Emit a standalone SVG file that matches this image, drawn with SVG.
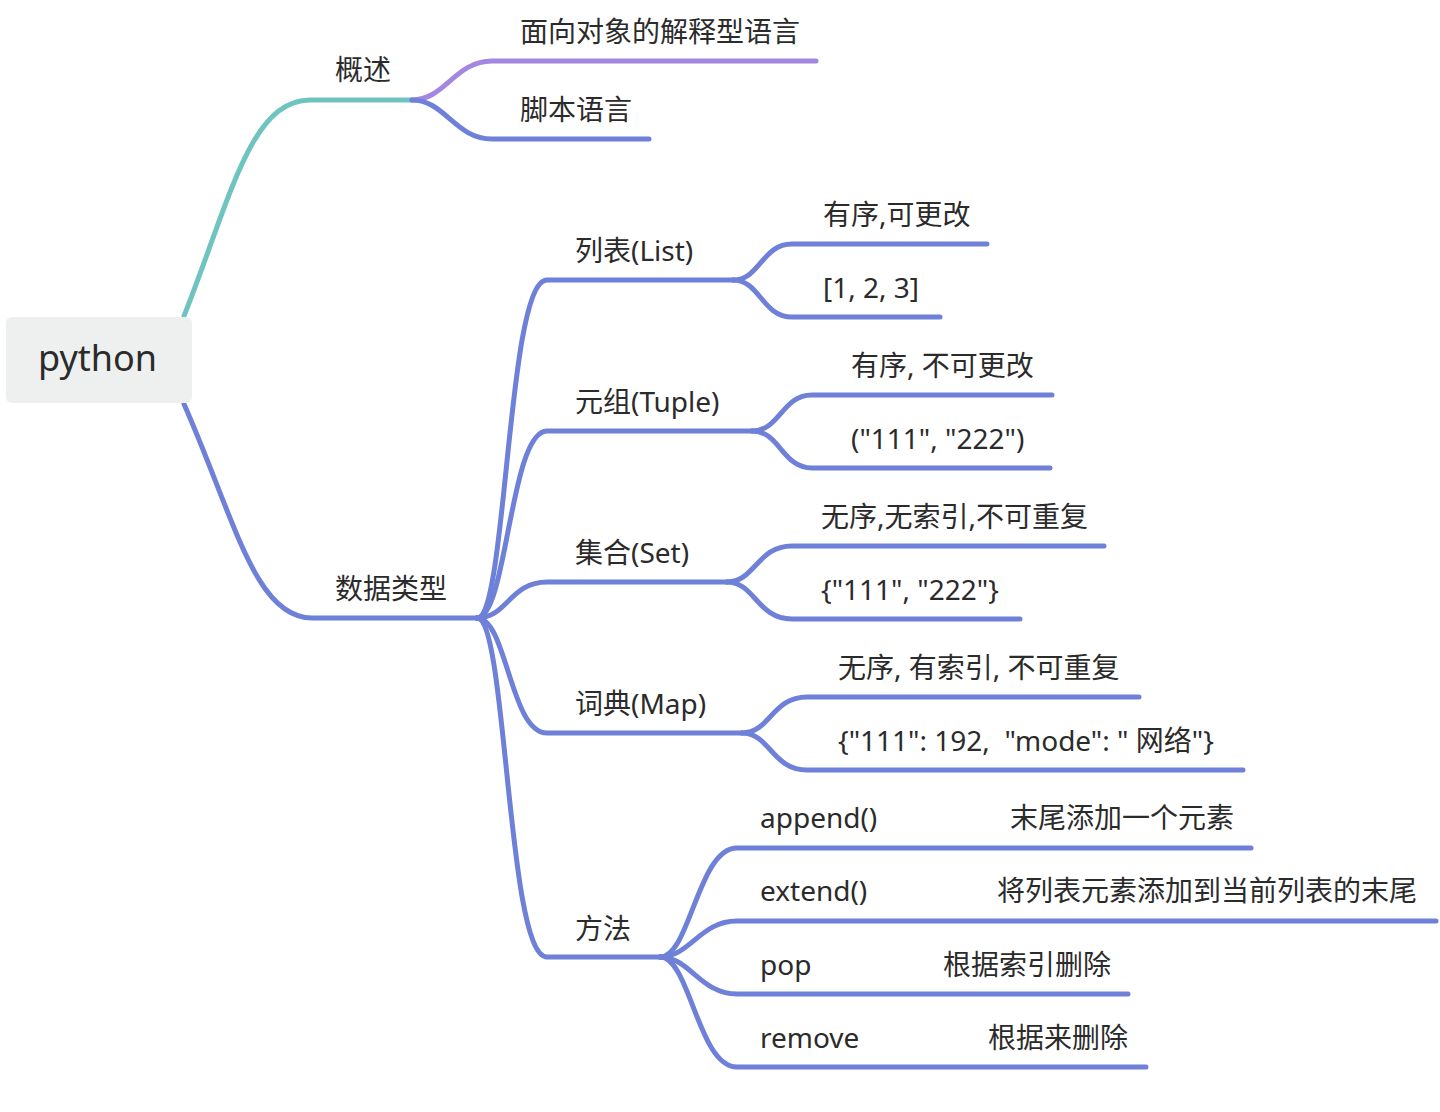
<svg xmlns="http://www.w3.org/2000/svg" width="1440" height="1112" viewBox="0 0 1440 1112">
<style>
.c{fill:none;stroke:#6e80d8;stroke-width:5;stroke-linecap:round}
.teal{stroke:#6fc4bf}
.pur{stroke:#a488e0}
text{font-family:"Noto Sans","Noto Sans CJK SC",sans-serif;font-size:28px;fill:#2b2b2b;white-space:pre}
.root{font-size:36px}
</style>
<rect width="1440" height="1112" fill="#ffffff"/>
<g id="connectors">
<path class="c teal" d="M184 316 C230 200 250 100 310 100 H412"/>
<path class="c pur" d="M412 100 C445 100 455 61 492 61 H816"/>
<path class="c" d="M412 100 C445 100 455 139 492 139 H649"/>
<path class="c" d="M184 404 C235 520 255 618 312 618 H477"/>
<path class="c" d="M477 618 C507 618 507 280 547 280 H733"/>
<path class="c" d="M477 618 C507 618 510 431 547 431 H752"/>
<path class="c" d="M477 618 C507 618 510 582 547 582 H727"/>
<path class="c" d="M477 618 C507 618 510 733 547 733 H742"/>
<path class="c" d="M477 618 C507 618 507 957 547 957 H660"/>
<path class="c" d="M733 280 C760 280 762 244 792 244 H987"/>
<path class="c" d="M733 280 C760 280 762 317 792 317 H940"/>
<path class="c" d="M752 431 C780 431 782 395 812 395 H1052"/>
<path class="c" d="M752 431 C780 431 782 468 812 468 H1050"/>
<path class="c" d="M727 582 C755 582 757 546 792 546 H1104"/>
<path class="c" d="M727 582 C755 582 757 619 792 619 H1020"/>
<path class="c" d="M742 733 C770 733 772 697 807 697 H1139"/>
<path class="c" d="M742 733 C770 733 772 770 807 770 H1243"/>
<path class="c" d="M660 957 C690 957 698 848 737 848 H1251"/>
<path class="c" d="M660 957 C690 957 700 921 737 921 H1436"/>
<path class="c" d="M660 957 C690 957 700 994 737 994 H1128"/>
<path class="c" d="M660 957 C690 957 698 1067 737 1067 H1146"/>
</g>
<g id="python"><rect x="6" y="317" width="186" height="86" rx="6" fill="#eef0f0"/><text class="root" x="38" y="371">python</text></g>
<g id="gaishu"><text x="335" y="80">概述</text></g>
<g id="mianxiang"><text x="520" y="42">面向对象的解释型语言</text></g>
<g id="jiaoben"><text x="520" y="120">脚本语言</text></g>
<g id="shujuleixing"><text x="335" y="599">数据类型</text></g>
<g id="list"><text x="575" y="261">列表(List)</text></g>
<g id="list-a"><text x="823" y="225">有序,可更改</text></g>
<g id="list-b"><text x="823" y="298">[1, 2, 3]</text></g>
<g id="tuple"><text x="575" y="412">元组(Tuple)</text></g>
<g id="tuple-a"><text x="851" y="376">有序, 不可更改</text></g>
<g id="tuple-b"><text x="851" y="449">("111", "222")</text></g>
<g id="set"><text x="575" y="563">集合(Set)</text></g>
<g id="set-a"><text x="821" y="527">无序,无索引,不可重复</text></g>
<g id="set-b"><text x="821" y="600">{"111", "222"}</text></g>
<g id="map"><text x="575" y="714">词典(Map)</text></g>
<g id="map-a"><text x="838" y="678">无序, 有索引, 不可重复</text></g>
<g id="map-b"><text x="838" y="751">{"111": 192,  "mode": " 网络"}</text></g>
<g id="fangfa"><text x="575" y="939">方法</text></g>
<g id="append"><text x="760" y="828">append()<tspan x="1010">末尾添加一个元素</tspan></text></g>
<g id="extend"><text x="760" y="901">extend()<tspan x="997">将列表元素添加到当前列表的末尾</tspan></text></g>
<g id="pop"><text x="760" y="975">pop<tspan x="943">根据索引删除</tspan></text></g>
<g id="remove"><text x="760" y="1048">remove<tspan x="988">根据来删除</tspan></text></g>
</svg>
